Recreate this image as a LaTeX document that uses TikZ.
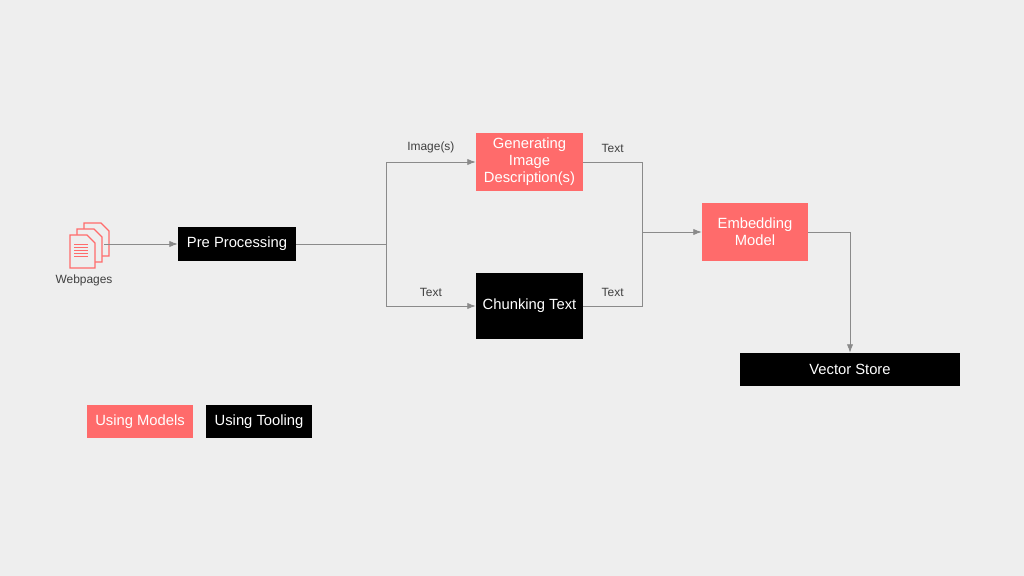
\documentclass[tikz,border=0pt]{standalone}
\usepackage{fontspec}
\setmainfont{Liberation Sans}
\usetikzlibrary{arrows.meta,positioning,calc}
\definecolor{bgGray}{HTML}{EEEEEE}
\definecolor{modelRed}{HTML}{FF6B6B}
\definecolor{lineGray}{HTML}{8A8A8A}
\newlength{\pxu}
\setlength{\pxu}{0.025cm}
\tikzset{
  box/.style = {draw=none, minimum width=106\pxu, minimum height=58\pxu,
                align=center, text=white, font=\fontsize{10.5}{12}\selectfont, inner sep=1pt},
  modelbox/.style = {box, fill=modelRed},
  toolbox/.style = {box, fill=black},
  link/.style = {draw=lineGray, line width=0.6pt},
  arr/.style = {link, -{Latex[length=6pt,width=4.5pt]}},
  lbl/.style = {font=\fontsize{8.5}{10}\selectfont, text=black!75},
  docpage/.style = {draw=modelRed, line width=0.9pt, fill=bgGray}
}
\begin{document}
\begin{tikzpicture}[x=0.025cm, y=-0.025cm]

\fill[bgGray] (0,0) rectangle (1024,576);
\useasboundingbox (0,0) rectangle (1024,576);

% nodes
\node[toolbox, minimum width=118\pxu, minimum height=34\pxu] (pre) at (237,244) {Pre Processing};
\node[modelbox, minimum width=107\pxu] (gen) at (529.5,162) {Generating\\Image\\Description(s)};
\node[toolbox, minimum width=107\pxu, minimum height=66\pxu] (chunk) at (529.5,306) {Chunking Text};
\node[modelbox] (embed) at (755,232) {Embedding\\Model};
\node[toolbox, minimum width=220\pxu, minimum height=33\pxu] (vec) at (850,369.5) {Vector Store};
\node[modelbox, minimum height=33\pxu] (usem) at (140,421.5) {Using Models};
\node[toolbox, minimum height=33\pxu] (uset) at (259,421.5) {Using Tooling};

% webpages icon
\coordinate (web) at (84,250);
\foreach \d in {2,1,0} {
  \draw[docpage] ($(web)+(-14+7*\d,-15-6*\d)$) -- ++(17,0) -- ++(8,8) -- ++(0,25) -- ++(-25,0) -- cycle;
}
\foreach \k in {0,1,2,3,4} \draw[modelRed, line width=0.5pt] ($(web)+(-10,-6+3*\k)$) -- ++(14,0);
\node[lbl, below=20\pxu of web] (weblbl) {Webpages};
\coordinate (webR) at (104,244);

% connectors
\coordinate (split) at (386,244);
\coordinate (join) at (642,232);
\draw[arr] (webR) -- (pre);
\draw[link] (pre) -- (split);
\draw[arr] (split) |- node[lbl, pos=0.75, above=3pt] {Image(s)} (gen);
\draw[arr] (split) |- node[lbl, pos=0.75, above=3pt] {Text} (chunk);
\draw[link] (gen) -| node[lbl, pos=0.25, above=3pt] {Text} (join);
\draw[link] (chunk) -| node[lbl, pos=0.25, above=3pt] {Text} (join);
\draw[arr] (join) -- (embed);
\draw[arr] (embed.east) -| (vec.north);

\end{tikzpicture}
\end{document}
